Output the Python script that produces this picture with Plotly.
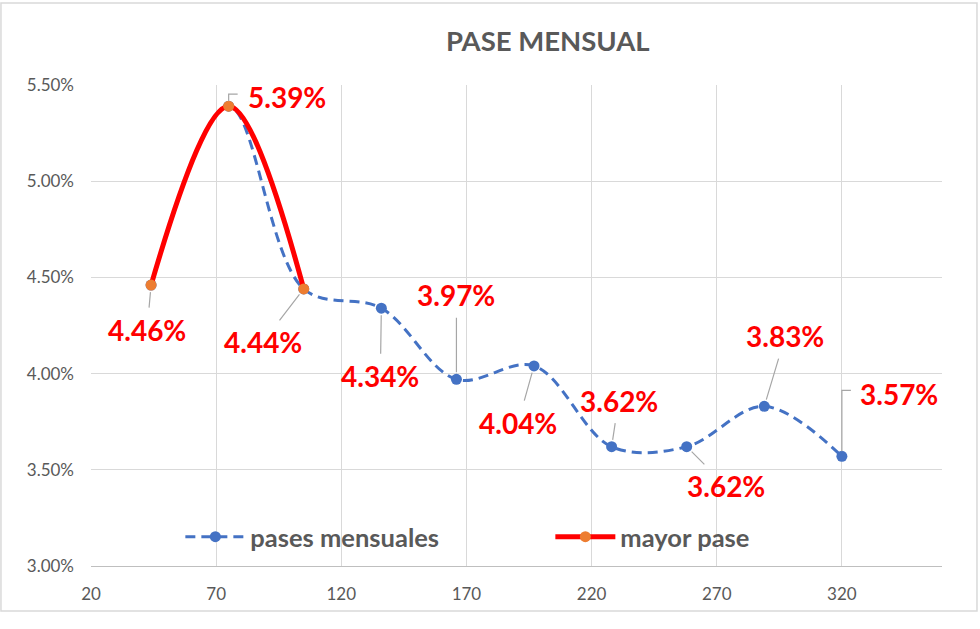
import plotly.graph_objects as go

# ---- data ----
dias = [44, 75, 105, 136, 166, 197, 228, 258, 289, 320]
pases = [4.46, 5.39, 4.44, 4.34, 3.97, 4.04, 3.62, 3.62, 3.83, 3.57]
mayor_dias = dias[:3]
mayor_pases = pases[:3]
etiquetas = [f"{v:.2f}%" for v in pases]
x_ticks = [20, 70, 120, 170, 220, 270, 320]
y_ticks = [3.00, 3.50, 4.00, 4.50, 5.00, 5.50]
y_tick_text = [f"{v:.2f}%" for v in y_ticks]

# ---- styling ----
label_offsets = [(-4, 45), (58, -9), (-41, 53), (-1, 68), (0, -84),
                 (-16, 57), (7, -46), (39, 39), (21, -70), (57, -62)]
elbow = [False, True, False, False, False, False, False, False, False, True]
elbow_paths = {1: "M0,5 L0,12 L9,12", 9: "M0,5 L0,66 L9,66"}

FONT = "Lato"
GRAY = "#595959"
BLUE = "#4472C4"
ORANGE = "#ED7D31"
RED = "#FF0000"
LEADER = "#A6A6A6"

fig = go.Figure()
fig.add_trace(go.Scatter(
    x=dias, y=pases, name="pases mensuales", mode="lines+markers",
    line=dict(color=BLUE, width=3, dash="10px,6px", shape="spline"),
    marker=dict(color=BLUE, size=11),
))
fig.add_trace(go.Scatter(
    x=mayor_dias, y=mayor_pases, name="mayor pase", mode="lines+markers",
    line=dict(color=RED, width=5, shape="spline"),
    marker=dict(color=ORANGE, size=11),
))

annotations = []
shapes = []
for i, (xv, yv, txt) in enumerate(zip(dias, pases, etiquetas)):
    dx, dy = label_offsets[i]
    if elbow[i]:
        annotations.append(dict(
            x=xv, y=yv, text=txt, showarrow=False, xshift=dx, yshift=-dy,
            font=dict(family=FONT, size=28, color=RED, weight="bold")))
        shapes.append(dict(
            type="path", xref="x", yref="y", xsizemode="pixel", ysizemode="pixel",
            xanchor=xv, yanchor=yv, path=elbow_paths[i],
            line=dict(color=LEADER, width=1.2)))
    else:
        annotations.append(dict(
            x=xv, y=yv, text=txt, showarrow=True, ax=dx, ay=dy,
            arrowhead=0, arrowwidth=1.2, arrowcolor=LEADER,
            standoff=7, startstandoff=4,
            font=dict(family=FONT, size=28, color=RED, weight="bold")))

# outer chart frame (spreadsheet chart border)
shapes.append(dict(type="rect", xref="paper", yref="paper",
                   x0=-0.1058, x1=1.0411, y0=-0.0936, y1=1.1705,
                   line=dict(color="#D9D9D9", width=1.5), layer="below"))

fig.update_layout(
    width=980, height=629,
    margin=dict(l=91, r=38, t=85, b=63),
    paper_bgcolor="white", plot_bgcolor="white",
    title=dict(text="PASE MENSUAL", x=0.559, xanchor="center", y=0.935, yanchor="middle",
               font=dict(family=FONT, size=27.5, color=GRAY, weight="bold")),
    xaxis=dict(range=[20, 360], tickvals=x_ticks, showgrid=True, gridcolor="#D9D9D9",
               gridwidth=1, zeroline=False, showline=True, linecolor="#BFBFBF",
               ticks="", ticklabelstandoff=13,
               tickfont=dict(family=FONT, size=17, color=GRAY)),
    yaxis=dict(range=[3.0, 5.5], tickvals=y_ticks, ticktext=y_tick_text,
               showgrid=True, gridcolor="#D9D9D9", gridwidth=1, zeroline=False,
               showline=False, ticks="", ticklabelstandoff=16,
               tickfont=dict(family=FONT, size=17, color=GRAY)),
    legend=dict(orientation="h", x=0.105, xanchor="left", y=0.06, yanchor="middle",
                bgcolor="rgba(0,0,0,0)", itemwidth=60, entrywidth=295, entrywidthmode="pixels",
                font=dict(family=FONT, size=25.5, color=GRAY, weight="bold")),
    annotations=annotations,
    shapes=shapes,
    showlegend=True,
)

fig.write_html("out.html")
